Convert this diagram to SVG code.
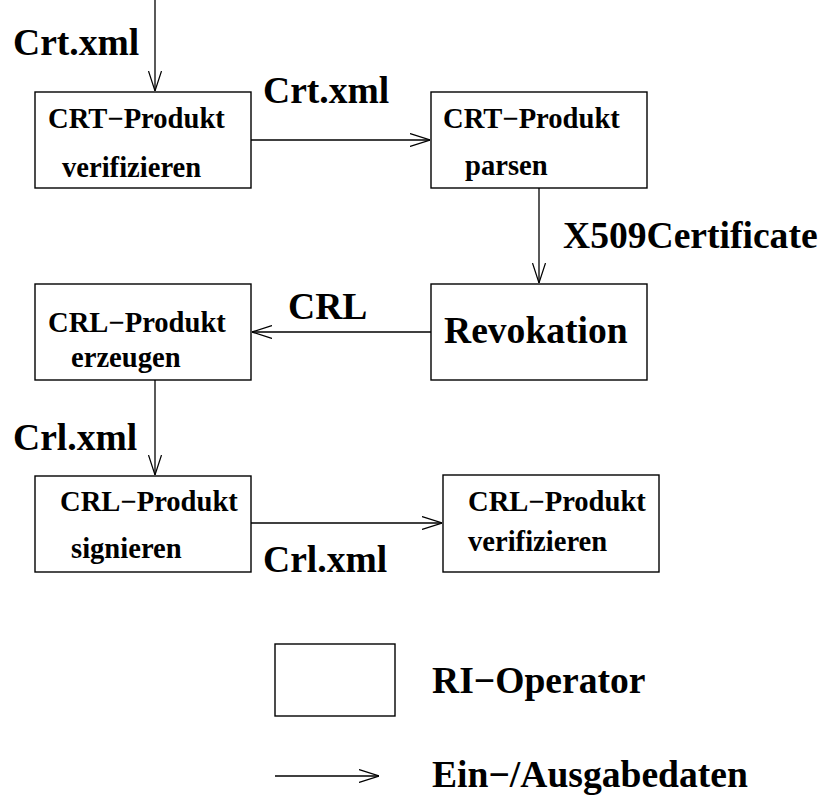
<svg xmlns="http://www.w3.org/2000/svg" width="825" height="795" viewBox="0 0 825 795">
<defs>
<marker id="ah" viewBox="0 0 20 14" refX="20" refY="7" markerWidth="20" markerHeight="14" orient="auto" markerUnits="userSpaceOnUse">
<path d="M0,0.5 L20,7 L0,13.5" fill="none" stroke="#000" stroke-width="1.2"/>
</marker>
</defs>
<style>
.box{fill:#fff;stroke:#000;stroke-width:1.4}
.edge{fill:none;stroke:#000;stroke-width:1.3;marker-end:url(#ah)}
.t{font-family:"Liberation Serif","Times New Roman",serif;font-weight:bold;fill:#000}
.s{font-size:28.6px}
.l{font-size:37.6px}
</style>
<rect width="825" height="795" fill="#fff"/>
<g id="connectors">
<line class="edge" x1="155" y1="0" x2="155" y2="91"/>
<line class="edge" x1="251" y1="140" x2="430" y2="140"/>
<line class="edge" x1="539" y1="188" x2="539" y2="283"/>
<line class="edge" x1="431" y1="332" x2="252" y2="332"/>
<line class="edge" x1="155" y1="380" x2="155" y2="475"/>
<line class="edge" x1="251" y1="523" x2="442" y2="523"/>
</g>
<g id="labels">
<text class="t l" x="13" y="55">Crt.xml</text>
<text class="t l" x="263" y="103">Crt.xml</text>
<text class="t l" x="563" y="248">X509Certificate</text>
<text class="t l" x="288" y="319">CRL</text>
<text class="t l" x="13" y="450">Crl.xml</text>
<text class="t l" x="263" y="572">Crl.xml</text>
</g>
<g id="n1">
<rect class="box" x="35" y="92" width="216" height="96"/>
<text class="t s" x="48" y="128">CRT−Produkt</text>
<text class="t s" x="62" y="177">verifizieren</text>
</g>
<g id="n2">
<rect class="box" x="431" y="92" width="216" height="96"/>
<text class="t s" x="443" y="128">CRT−Produkt</text>
<text class="t s" x="465" y="175">parsen</text>
</g>
<g id="n3">
<rect class="box" x="431" y="284" width="216" height="96"/>
<text class="t l" x="444" y="343">Revokation</text>
</g>
<g id="n4">
<rect class="box" x="35" y="284" width="216" height="96"/>
<text class="t s" x="48" y="332">CRL−Produkt</text>
<text class="t s" x="71" y="367">erzeugen</text>
</g>
<g id="n5">
<rect class="box" x="35" y="476" width="216" height="96"/>
<text class="t s" x="60" y="511">CRL−Produkt</text>
<text class="t s" x="71" y="558">signieren</text>
</g>
<g id="n6">
<rect class="box" x="443" y="475" width="216" height="97"/>
<text class="t s" x="468" y="511">CRL−Produkt</text>
<text class="t s" x="468" y="551">verifizieren</text>
</g>
<g id="legend">
<rect class="box" x="275" y="644" width="120" height="72"/>
<text class="t l" x="432" y="693">RI−Operator</text>
<line class="edge" x1="275" y1="776" x2="379" y2="776"/>
<text class="t l" x="432" y="787">Ein−/Ausgabedaten</text>
</g>
</svg>
